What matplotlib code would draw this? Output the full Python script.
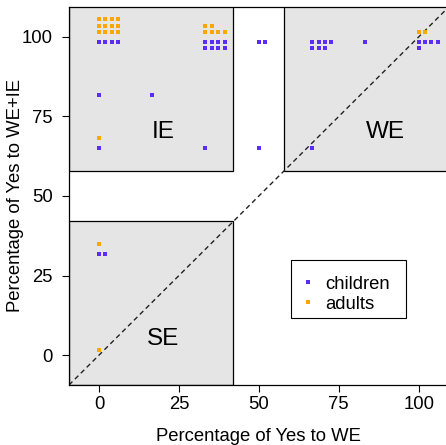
import matplotlib
matplotlib.use("Agg")
import matplotlib.pyplot as plt
from matplotlib.patches import Rectangle
from matplotlib.lines import Line2D

plt.rcParams['font.family'] = ['Liberation Sans', 'DejaVu Sans']

# ---- data (percentages; n = number of participants at that point) ----
children_x = [0, 33.3, 50, 66.7, 83.3, 100, 0, 16.7, 0, 33.3, 50, 66.7, 0]
children_y = [100, 100, 100, 100, 100, 100, 83.3, 83.3, 66.7, 66.7, 66.7, 66.7, 33.3]
children_n = [4, 8, 2, 7, 1, 5, 1, 1, 1, 1, 1, 1, 2]

adults_x = [0, 33.3, 100, 0, 0, 0]
adults_y = [100, 100, 100, 66.7, 33.3, 0]
adults_n = [12, 6, 2, 1, 1, 1]

ticks = [0, 25, 50, 75, 100]
regions = ["IE", "WE", "SE"]

col_children = "#5b2cf6"
col_adults = "#ffa500"

def stack(xs, ys, ns, direction, per_row=4, step=2.0, offset=1.5):
    px, py = [], []
    for x, y, n in zip(xs, ys, ns):
        for i in range(n):
            c, r = i % per_row, i // per_row
            px.append(x + step * c)
            py.append(y + direction * (offset + step * r))
    return px, py

W, H = 446, 445
fig = plt.figure(figsize=(W / 100, H / 100), dpi=100)
AX_L, AX_B, AX_W, AX_H = 69, 60, 379.7, 378  # pixels
ax = fig.add_axes([AX_L / W, AX_B / H, AX_W / W, AX_H / H])
lo, hi = -9.4, 109.4
ax.set_xlim(lo, hi)
ax.set_ylim(lo, hi)

def px2ax(x, y_from_top):
    return (x - AX_L) / AX_W, ((H - y_from_top) - AX_B) / AX_H

gray = "#e5e5e5"
for (x0, y0) in [(lo, 58), (58, 58), (lo, lo)]:
    w = (42 - lo) if x0 == lo else (hi + 5 - 58)
    h = (hi + 5 - 58) if y0 == 58 else (42 - lo)
    ax.add_patch(Rectangle((x0, y0), w, h, facecolor=gray, edgecolor="black",
                           lw=0.9, zorder=1))

ax.plot([lo, hi], [lo, hi], color="#222222", lw=1.0, ls=(0, (3.5, 2.5)), zorder=2)

ms = 3.5
cx, cy = stack(children_x, children_y, children_n, -1)
axx, ayy = stack(adults_x, adults_y, adults_n, +1)
l1, = ax.plot(cx, cy, ls="none", marker="s", ms=ms, mew=0, color=col_children, zorder=3)
l2, = ax.plot(axx, ayy, ls="none", marker="s", ms=ms, mew=0, color=col_adults, zorder=3)
l1.set_snap(False)
l2.set_snap(False)

fs = 13.3
for lab, (tx, ty) in zip(regions, [(20, 70), (89.6, 70), (20, 5)]):
    ax.text(tx, ty, lab, fontsize=17.5, ha="center", va="center", zorder=4)

ax.set_xticks(ticks)
ax.set_yticks(ticks)
ax.set_xticklabels([str(t) for t in ticks])
ax.set_yticklabels([str(t) for t in ticks])
ax.tick_params(axis="x", length=5, width=0.8, pad=3, labelsize=fs)
ax.tick_params(axis="y", length=5, width=0.8, pad=6.5, labelsize=fs)
for s in ax.spines.values():
    s.set_linewidth(0.9)
    s.set_zorder(5)

ax.set_xlabel("Percentage of Yes to WE", fontsize=fs, labelpad=11)
ax.set_ylabel("Percentage of Yes to WE+IE", fontsize=fs, labelpad=-1.5)

# legend: entries without frame, frame drawn as a box
handles = [Line2D([], [], ls="none", marker="s", ms=ms, mew=0, color=col_children),
           Line2D([], [], ls="none", marker="s", ms=ms, mew=0, color=col_adults)]
leg = ax.legend(handles, ["children", "adults"], loc="upper left",
                bbox_to_anchor=px2ax(300.6, 275.8),
                fontsize=fs, frameon=False, borderaxespad=0, borderpad=0,
                labelspacing=0.17, handlelength=0.8, handletextpad=0.52)
leg.set_zorder(7)
bx0, by0 = px2ax(291, 318)
bx1, by1 = px2ax(406, 260)
ax.add_patch(Rectangle((bx0, by0), bx1 - bx0, by1 - by0, transform=ax.transAxes,
                       facecolor="white", edgecolor="black", lw=0.8, zorder=6))

fig.savefig("out.png", dpi=100)
